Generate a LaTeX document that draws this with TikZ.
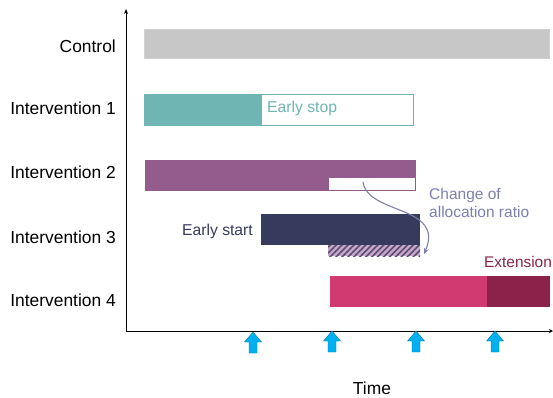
\documentclass[tikz,border=0pt]{standalone}
\usepackage{fontspec}
\setmainfont{Liberation Sans}
\usetikzlibrary{patterns.meta,arrows.meta}
\definecolor{ctrlgray}{HTML}{C8C7C7}
\definecolor{teal1}{HTML}{6FB5B3}
\definecolor{purp2}{HTML}{935C8C}
\definecolor{navy3}{HTML}{363A5C}
\definecolor{lav}{HTML}{C9A7C9}
\definecolor{hatchc}{HTML}{574C72}
\definecolor{pink4}{HTML}{D03A70}
\definecolor{wine4}{HTML}{8B2249}
\definecolor{slate}{HTML}{7D80AE}
\definecolor{tickblue}{HTML}{00B0F0}
\tikzset{
  lbl/.style={font=\fontsize{15.7}{18.5}\selectfont, inner sep=0pt},
  biglbl/.style={font=\fontsize{17.4}{20}\selectfont, inner sep=0pt},
  rowlbl/.style={biglbl, anchor=east},
  bluearrow/.pic={\fill[tickblue, draw=tickblue!70!black, line width=0.4pt]
     (0,0) -- (8.5,10) -- (4,10) -- (4,21) -- (-4,21) -- (-4,10) -- (-8.5,10) -- cycle;}
}
\begin{document}
\begin{tikzpicture}[x=1pt,y=-1pt]
\useasboundingbox (0,0) rectangle (553,397);
% axes
\coordinate (o) at (126,331);
\coordinate (ytop) at (126,9);
\coordinate (xend) at (553,331);
\draw[line width=1pt,-{Stealth[length=5pt,width=4pt]}] (o) -- (ytop);
\draw[line width=1pt,-{Stealth[length=4pt,width=4pt]}] (o) -- (xend);
% row labels
\node[rowlbl] (lc) at (116,46) {Control};
\node[rowlbl] (l1) at (116,108) {Intervention 1};
\node[rowlbl] (l2) at (116,172) {Intervention 2};
\node[rowlbl] (l3) at (116,237) {Intervention 3};
\node[rowlbl] (l4) at (116,300) {Intervention 4};
% control
\fill[ctrlgray, draw=ctrlgray!80!white] (144,29) rectangle (549,58);
% intervention 1
\draw[teal1, line width=0.8pt, fill=white] (144,94) rectangle (413,125);
\fill[teal1] (144,94) rectangle (262,125);
\node[lbl, anchor=west, text=teal1] (es) at (267,108) {Early stop};
% intervention 2
\fill[purp2] (145,160) rectangle (416,191);
\draw[purp2, line width=0.8pt, fill=white] (328,177) rectangle (415,190.5);
% intervention 3
\fill[navy3] (261,214) rectangle (420,245);
\fill[lav] (328,245) rectangle (420,256);
\pattern[pattern={Lines[angle=45,distance=4.2pt,line width=1.6pt]}, pattern color=hatchc] (328,245) rectangle (420,256);
\node[lbl, anchor=east, text=navy3] (est) at (253,231) {Early start};
% change arrow
\coordinate (cs) at (363,182);
\coordinate (ce) at (424,254);
\draw[slate, line width=1.1pt, -{Stealth[length=6pt,width=5pt]}] (cs) .. controls (368,215) and (445,205) .. (ce);
\node[lbl, anchor=north west, text=slate, align=left, font=\fontsize{15.5}{18}\selectfont] (chg) at (429,188) {Change of\\allocation ratio};
% intervention 4
\fill[pink4] (330,276) rectangle (487,307);
\fill[wine4] (487,276) rectangle (550,307);
\node[lbl, anchor=west, text=wine4, font=\fontsize{15.4}{18}\selectfont] (ext) at (484,262) {Extension};
% time arrows
\pic at (253,332) {bluearrow};
\pic at (332,331) {bluearrow};
\pic at (416,331) {bluearrow};
\pic at (495,331) {bluearrow};
\node[biglbl] (time) at (372,388) {Time};
\end{tikzpicture}
\end{document}
